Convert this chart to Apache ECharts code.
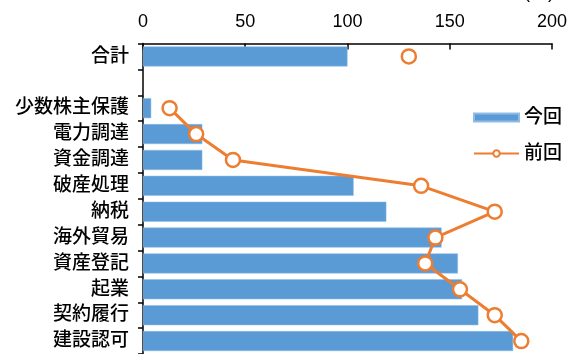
<!DOCTYPE html>
<html>
<head>
<meta charset="utf-8">
<script src="https://cdn.jsdelivr.net/npm/echarts@6/dist/echarts.min.js"></script>
<style>html,body{margin:0;padding:0;background:#fff}#c{width:570px;height:354px}</style>
</head>
<body>
<div id="c"></div>
<script>
const categories = ['合計', '', '少数株主保護', '電力調達', '資金調達', '破産処理', '納税', '海外貿易', '資産登記', '起業', '契約履行', '建設認可'];
const currentRank = [100, null, 4, 29, 29, 103, 119, 146, 154, 156, 164, 181];
const previousRank = [130, null, 13, 26, 44, 136, 172, 143, 138, 155, 172, 185];
const xTicks = [0, 50, 100, 150, 200];

const FONT = "'Liberation Sans', 'Noto Sans CJK JP', sans-serif";
const chart = echarts.init(document.getElementById('c'));
chart.setOption({
  animation: false,
  backgroundColor: '#fff',
  textStyle: { fontFamily: FONT },
  graphic: [{
    type: 'text', left: 524, top: -16,
    style: { text: '(位)', fontSize: 18, fontFamily: FONT, fill: '#000' }
  }],
  legend: {
    orient: 'vertical',
    left: 468, top: 103,
    itemWidth: 45, itemHeight: 8,
    itemGap: 17,
    textStyle: { fontSize: 19, fontWeight: 500, color: '#000', fontFamily: FONT },
    data: [{ name: '今回', icon: 'rect' }, { name: '前回' }]
  },
  grid: { left: 143, right: 15, top: 43.5, height: 315, containLabel: false },
  xAxis: {
    type: 'value', position: 'top',
    min: xTicks[0], max: xTicks[xTicks.length - 1], interval: 50,
    axisLine: { show: true, lineStyle: { color: '#000', width: 1.5 } },
    axisTick: { show: true, inside: true, length: 6, lineStyle: { color: '#000', width: 1.5 } },
    axisLabel: { fontSize: 18, color: '#000', margin: 12, fontFamily: FONT },
    splitLine: { show: false }
  },
  yAxis: {
    type: 'category', inverse: true, data: categories,
    axisLine: { show: true, lineStyle: { color: '#000', width: 1.5 } },
    axisTick: { show: true, inside: false, length: 5, lineStyle: { color: '#000', width: 1.5 } },
    axisLabel: { fontSize: 19, fontWeight: 500, color: '#000', margin: 14, fontFamily: FONT }
  },
  series: [
    {
      name: '今回', type: 'bar', data: currentRank,
      barWidth: 20,
      itemStyle: { color: '#5B9BD5', borderColor: '#8fbbe6', borderWidth: 0.5 }
    },
    {
      name: '前回', type: 'line', data: previousRank,
      connectNulls: false,
      symbol: 'circle', symbolSize: 14,
      lineStyle: { color: '#ED7D31', width: 3 },
      itemStyle: { color: '#fff', borderColor: '#ED7D31', borderWidth: 2.5 },
      z: 3
    }
  ]
});
</script>
</body>
</html>
